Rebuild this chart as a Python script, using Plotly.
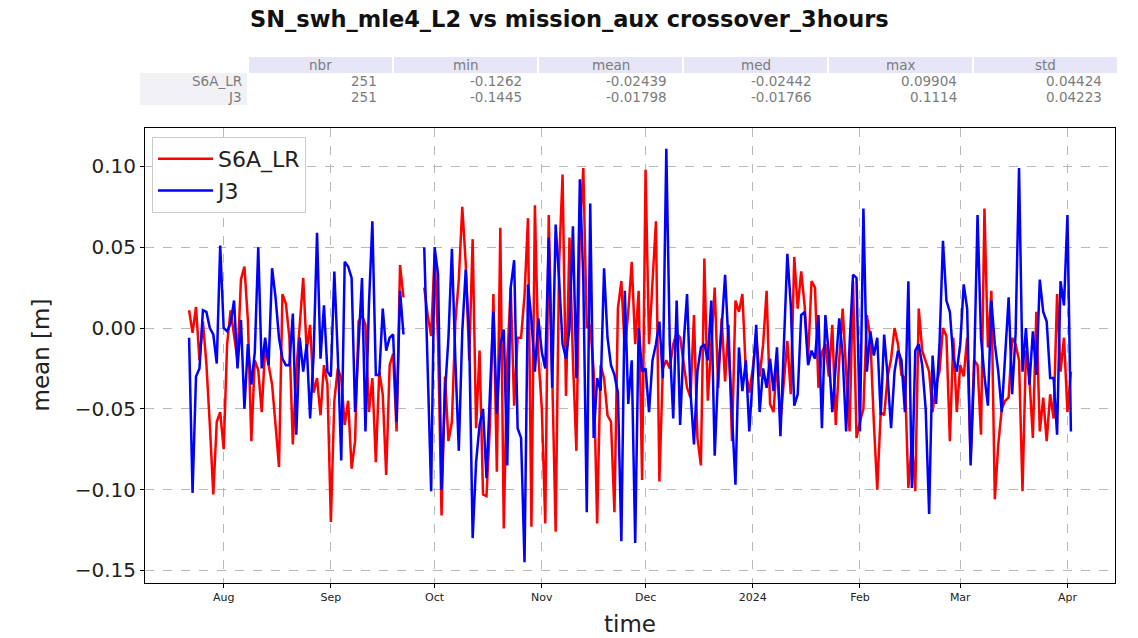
import pandas as pd
import plotly.graph_objects as go

# ---------------- data ----------------
title_text = "SN_swh_mle4_L2 vs mission_aux crossover_3hours"
x_title = "time"
y_title = "mean [m]"
series_names = ["S6A_LR", "J3"]
start_date = "2023-07-22"
end_date = "2024-04-02"

s6a_lr = [
    0.011, -0.003, 0.013, -0.020, 0.004, -0.022, -0.060, -0.103, -0.058, -0.052,
    -0.075, -0.010, 0.011, -0.005, -0.020, 0.030, 0.038, 0.005, -0.070, -0.020,
    -0.026, -0.052, -0.012, -0.023, -0.035, -0.060, -0.086, 0.021, 0.015, -0.006,
    -0.072, -0.027, 0.005, 0.031, -0.014, 0.002, -0.040, -0.031, -0.054, -0.023,
    -0.035, -0.120, -0.045, -0.025, -0.031, -0.060, -0.045, -0.087, -0.070, 0.004,
    0.008, 0.002, -0.052, -0.031, -0.083, -0.027, -0.041, -0.091, -0.023, -0.016,
    -0.064, 0.039, 0.019, None, None, None, None, None, 0.025, 0.008,
    -0.005, 0.046, -0.008, -0.116, -0.030, -0.070, -0.058, 0.004, 0.030, 0.075,
    0.040, -0.020, 0.055, -0.062, -0.014, -0.103, -0.104, -0.060, 0.021, -0.089,
    0.062, -0.124, -0.020, 0.025, -0.048, -0.006, -0.006, 0.020, 0.068, -0.123,
    0.076, -0.017, -0.050, -0.121, 0.070, -0.027, -0.126, 0.040, 0.095, -0.042,
    0.056, -0.020, -0.076, 0.060, 0.099, 0.000, 0.002, -0.027, -0.121, -0.023,
    -0.031, -0.054, -0.058, -0.114, 0.012, 0.029, -0.014, 0.010, 0.041, -0.010,
    0.023, -0.094, 0.098, -0.010, 0.030, 0.066, -0.095, -0.025, -0.020, -0.025,
    -0.010, -0.003, -0.006, -0.020, -0.037, -0.043, 0.008, -0.068, -0.085, 0.043,
    -0.045, -0.010, 0.025, -0.037, 0.006, -0.033, 0.002, -0.070, 0.017, 0.010,
    0.021, -0.027, -0.040, -0.025, -0.005, -0.030, -0.010, 0.023, -0.047, -0.052,
    -0.020, -0.058, -0.030, -0.008, -0.041, 0.044, 0.012, 0.035, 0.014, -0.019,
    0.029, 0.025, -0.037, -0.015, -0.010, -0.030, 0.002, -0.060, -0.020, 0.012,
    -0.027, -0.064, 0.029, -0.068, -0.058, -0.050, 0.008, -0.006, -0.058, -0.100,
    -0.052, -0.054, -0.030, -0.019, 0.000, -0.010, -0.029, -0.031, -0.099, -0.070,
    -0.101, 0.012, -0.014, -0.020, -0.027, -0.052, -0.035, -0.027, 0.000, -0.005,
    -0.070, -0.006, -0.052, -0.023, -0.030, -0.006, -0.081, -0.020, -0.023, -0.066,
    0.074, -0.012, 0.023, -0.106, -0.072, -0.050, -0.045, -0.043, -0.006, -0.010,
    -0.020, -0.101, -0.014, -0.031, -0.068, 0.010, -0.064, -0.043, -0.070, -0.041,
    -0.056, 0.021, -0.027, -0.006, -0.052, -0.027,
]

j3 = [
    -0.006, -0.102, -0.030, -0.025, 0.011, 0.010, 0.000, -0.004, -0.022, 0.051,
    0.000, -0.002, 0.003, 0.017, -0.025, 0.005, -0.050, -0.010, -0.035, -0.015,
    0.050, -0.025, -0.006, -0.023, 0.037, 0.019, -0.006, -0.019, -0.023, -0.023,
    0.009, -0.066, -0.006, -0.027, -0.010, -0.056, -0.017, 0.059, -0.019, 0.014,
    -0.027, -0.030, 0.035, -0.017, -0.082, 0.041, 0.038, 0.031, -0.052, -0.010,
    0.031, -0.064, 0.014, 0.066, -0.029, -0.029, 0.012, -0.014, -0.006, -0.004,
    -0.058, 0.023, -0.004, None, None, None, None, None, 0.050, -0.030,
    -0.101, 0.050, 0.033, -0.100, -0.040, -0.006, 0.049, -0.020, -0.076, -0.002,
    0.036, -0.006, -0.130, -0.083, -0.060, -0.050, -0.093, -0.040, 0.010, -0.053,
    -0.010, -0.001, -0.085, 0.025, 0.042, -0.062, -0.068, -0.145, 0.027, 0.005,
    -0.027, 0.006, -0.015, -0.025, 0.056, -0.037, 0.064, 0.030, -0.010, -0.019,
    0.000, 0.063, -0.031, 0.092, 0.030, -0.114, 0.077, -0.068, -0.031, -0.039,
    0.037, -0.006, -0.023, -0.029, -0.040, -0.132, 0.023, -0.047, -0.020, -0.133,
    0.000, -0.027, -0.025, -0.052, -0.020, -0.010, 0.004, -0.031, 0.111, -0.010,
    -0.056, 0.017, -0.060, -0.010, 0.021, -0.040, -0.072, -0.027, -0.012, -0.010,
    -0.020, 0.017, -0.079, -0.027, 0.000, 0.033, -0.010, -0.062, -0.097, -0.012,
    -0.039, -0.020, -0.064, -0.030, 0.002, -0.052, -0.025, -0.037, -0.019, -0.039,
    -0.012, -0.067, -0.010, 0.046, 0.014, -0.048, -0.041, 0.008, 0.010, -0.023,
    -0.014, -0.019, 0.008, -0.062, 0.008, -0.017, -0.052, -0.020, 0.006, -0.017,
    -0.064, -0.010, 0.033, 0.031, -0.064, 0.074, -0.027, -0.002, -0.017, -0.006,
    -0.054, -0.004, -0.030, -0.062, -0.027, -0.014, -0.020, -0.052, 0.029, -0.099,
    -0.014, -0.010, -0.023, -0.050, -0.115, -0.017, -0.047, -0.010, 0.054, 0.017,
    0.010, -0.019, -0.027, -0.010, 0.027, 0.012, -0.085, -0.027, 0.070, -0.006,
    -0.030, -0.048, 0.017, -0.010, -0.027, -0.052, -0.020, 0.019, -0.041, -0.004,
    0.099, -0.027, 0.000, -0.035, -0.002, -0.029, 0.030, 0.010, 0.004, -0.031,
    -0.031, -0.066, 0.029, 0.014, 0.070, -0.064,
]

stat_cols = ["nbr", "min", "mean", "med", "max", "std"]
stat_rows = ["S6A_LR", "J3"]
stat_s6a_lr = ["251", "-0.1262", "-0.02439", "-0.02442", "0.09904", "0.04424"]
stat_j3 = ["251", "-0.1445", "-0.01798", "-0.01766", "0.1114", "0.04223"]

month_ticks = ["2023-08-01", "2023-09-01", "2023-10-01", "2023-11-01", "2023-12-01",
               "2024-01-01", "2024-02-01", "2024-03-01", "2024-04-01"]
month_labels = ["Aug", "Sep", "Oct", "Nov", "Dec", "2024", "Feb", "Mar", "Apr"]
y_ticks = [-0.15, -0.10, -0.05, 0.00, 0.05, 0.10]
y_tick_labels = ["\u22120.15", "\u22120.10", "\u22120.05", "0.00", "0.05", "0.10"]

# ---------------- figure ----------------
dates = pd.date_range(start_date, end_date, freq="D")
assert len(dates) == len(s6a_lr) == len(j3), (len(dates), len(s6a_lr), len(j3))

W, H = 1138, 638
L, R, T, B = 145, 1115, 128, 583
FONT = "DejaVu Sans"


def px(x):
    return (x - L) / (R - L)


def py(y):
    return (B - y) / (B - T)


fig = go.Figure()
fig.add_trace(go.Scatter(x=dates, y=s6a_lr, mode="lines", name=series_names[0],
                         line=dict(color="#ff0000", width=2.5), connectgaps=False))
fig.add_trace(go.Scatter(x=dates, y=j3, mode="lines", name=series_names[1],
                         line=dict(color="#0000ff", width=2.5), connectgaps=False))

pad = pd.Timedelta(days=12.75)
x_range = [dates[0] - pad, dates[-1] + pad]

vals = [v for v in s6a_lr + j3 if v is not None]
span = max(vals) - min(vals)
y_range = [min(vals) - 0.05 * span, max(vals) + 0.05 * span]

shapes = []
annotations = []

# statistics table
col_w = 145.0
col_x0 = 248.0
hdr_y0, hdr_y1 = 57, 73
row_h = 16
tbl_font = dict(family=FONT, size=13.5, color="#7c7c7c")
for i, c in enumerate(stat_cols):
    x0 = col_x0 + i * col_w
    shapes.append(dict(type="rect", xref="paper", yref="paper",
                       x0=px(x0 + 1), x1=px(x0 + col_w - 1), y0=py(hdr_y1), y1=py(hdr_y0),
                       fillcolor="#e6e6f8", line=dict(width=0), layer="below"))
    annotations.append(dict(xref="paper", yref="paper", x=px(x0 + col_w / 2), y=py((hdr_y0 + hdr_y1) / 2),
                            text=c, showarrow=False, xanchor="center", yanchor="middle",
                            font=tbl_font))
for r, (name, row_vals) in enumerate(zip(stat_rows, [stat_s6a_lr, stat_j3])):
    y0 = hdr_y1 + r * row_h
    shapes.append(dict(type="rect", xref="paper", yref="paper",
                       x0=px(140), x1=px(col_x0 - 1), y0=py(y0 + row_h), y1=py(y0),
                       fillcolor="#f1f1f6", line=dict(width=0), layer="below"))
    annotations.append(dict(xref="paper", yref="paper", x=px(col_x0 - 4), y=py(y0 + row_h / 2),
                            text=name, showarrow=False, xanchor="right", yanchor="middle",
                            font=tbl_font))
    for i, v in enumerate(row_vals):
        x0 = col_x0 + i * col_w
        annotations.append(dict(xref="paper", yref="paper", x=px(x0 + col_w - 14), y=py(y0 + row_h / 2),
                                text=v, showarrow=False, xanchor="right", yanchor="middle",
                                font=tbl_font))

# title
annotations.append(dict(xref="paper", yref="paper", x=px(W / 2), y=py(19),
                        text="<b>" + title_text + "</b>", showarrow=False,
                        xanchor="center", yanchor="middle",
                        font=dict(family=FONT, size=22.5, color="#111111")))
# axis titles
annotations.append(dict(xref="paper", yref="paper", x=0.5, y=py(624),
                        text=x_title, showarrow=False, xanchor="center", yanchor="middle",
                        font=dict(family=FONT, size=23, color="#222222")))
annotations.append(dict(xref="paper", yref="paper", x=px(40), y=0.5, textangle=-90,
                        text=y_title, showarrow=False, xanchor="center", yanchor="middle",
                        font=dict(family=FONT, size=23, color="#222222")))

fig.update_layout(
    width=W, height=H,
    margin=dict(l=L, r=W - R, t=T, b=H - B, autoexpand=False),
    paper_bgcolor="white", plot_bgcolor="white",
    font=dict(family=FONT, color="#222222"),
    showlegend=True,
    legend=dict(x=px(152), y=py(137), xanchor="left", yanchor="top",
                bgcolor="rgba(255,255,255,0.9)", bordercolor="#cccccc", borderwidth=1,
                font=dict(family=FONT, size=22, color="#222222"),
                itemwidth=55),
    shapes=shapes,
    annotations=annotations,
)

fig.update_xaxes(
    range=x_range, tickmode="array", tickvals=month_ticks, ticktext=month_labels,
    tickfont=dict(family=FONT, size=11, color="#222222"),
    showgrid=True, gridcolor="#b8b8b8", griddash="dash", gridwidth=1,
    showline=True, linecolor="black", linewidth=1, mirror=True,
    ticks="outside", ticklen=4, tickcolor="black",
    zeroline=False, automargin=False,
)
fig.update_yaxes(
    range=y_range, tickmode="array", tickvals=y_ticks, ticktext=y_tick_labels,
    tickfont=dict(family=FONT, size=20, color="#222222"),
    showgrid=True, gridcolor="#b8b8b8", griddash="dash", gridwidth=1,
    showline=True, linecolor="black", linewidth=1, mirror=True,
    ticks="outside", ticklen=4, tickcolor="black",
    zeroline=False, automargin=False,
)

fig.write_html("out.html")
